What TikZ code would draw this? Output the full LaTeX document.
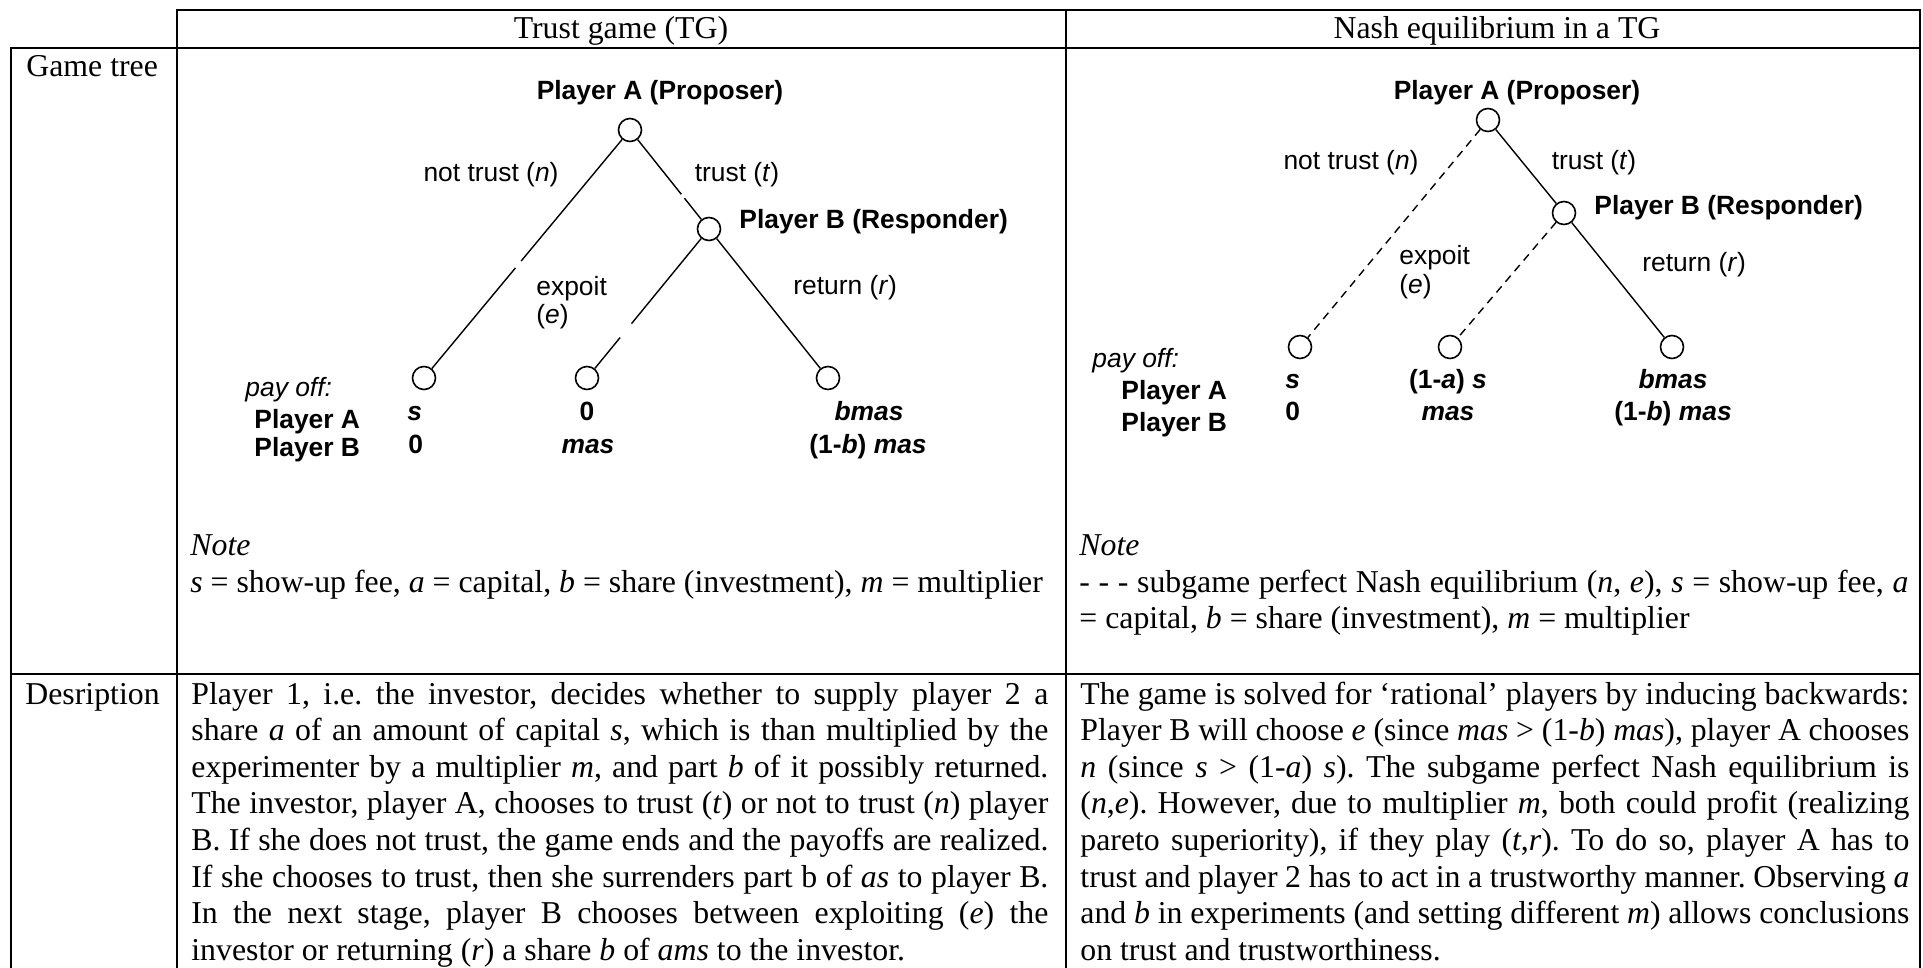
\documentclass[tikz,border=0pt]{standalone}
\usepackage{fontspec}
\setmainfont{Liberation Serif}
\newfontfamily\treefont{Liberation Sans}
\frenchspacing

\begin{document}
\begin{tikzpicture}[
  x=0.5pt, y=-0.5pt,
  font=\fontsize{15.9}{18.3}\selectfont,
  rule/.style={line width=1.4pt, line cap=rect},
  cell/.style={inner sep=0pt, anchor=base west},
  para/.style={cell, align=justify, text width=#1},
  dec/.style={circle, draw, line width=0.8pt, minimum size=11.5pt, inner sep=0pt},
  lab/.style={inner sep=0pt, font=\treefont\fontsize{13.2}{15}\selectfont},
  lab it/.style={inner sep=0pt, font=\treefont\itshape\fontsize{13.2}{15}\selectfont},
  who/.style={inner sep=0pt, font=\treefont\bfseries\fontsize{13.2}{15}\selectfont},
  edge/.style={line width=0.7pt},
  spe/.style={edge, dash pattern=on 4pt off 3pt}
]
\useasboundingbox (0,0) rectangle (1923,968);

\draw[rule] (177,10) -- (1920,10);
\draw[rule] (11,48) -- (1920,48);
\draw[rule] (11,674) -- (1920,674);
\draw[rule] (11,48) -- (11,968);
\foreach \x in {177,1066,1920}
  \draw[rule] (\x,10) -- (\x,968);

\node[cell, anchor=base] (h1) at (621,39) {Trust game (TG)};
\node[cell, anchor=base] (h2) at (1497,39) {Nash equilibrium in a TG};
\node[cell] (g) at (26,77) {Game tree};
\node[cell] (d) at (25,704) {Desription};

\node[who, anchor=base] (tA1) at (660,100) {Player A (Proposer)};
\node[dec] (A1) at (630,130) {};
\node[dec] (B1) at (709,229) {};
\node[who, anchor=base west] (tB1) at (739,229) {Player B (Responder)};
\node[dec] (n1) at (424,378) {};
\node[dec] (e1) at (587,378) {};
\node[dec] (r1) at (828,378) {};
\draw[edge, dash pattern=on 79pt off 4.5pt on 200pt] (A1) -- (n1);
\draw[edge, dash pattern=on 35pt off 2.5pt on 100pt] (A1) -- (B1);
\draw[edge, dash pattern=on 55pt off 9pt on 200pt] (B1) -- (e1);
\draw[edge] (B1) -- (r1);
\node[lab, anchor=base] (ln1) at (491,182) {not trust (\textit{n})};
\node[lab, anchor=base] (lt1) at (737,182) {trust (\textit{t})};
\node[lab, anchor=base west] (le1) at (536,296) {expoit};
\node[lab, anchor=base west] (lx1) at (536,324) {(\textit{e})};
\node[lab, anchor=base west] (lr1) at (793,295) {return (\textit{r})};
\node[lab it, anchor=base west] (po1) at (245,396) {pay off:};
\node[who, anchor=base west] (pA1) at (254,428) {Player A};
\node[who, anchor=base west] (pB1) at (254,456) {Player B};
\node[who, anchor=base west] (an1) at (407,421) {\textit{s}};
\node[who, anchor=base west] (bn1) at (408,453) {0};
\node[who, anchor=base] (ae1) at (587,421) {0};
\node[who, anchor=base] (be1) at (588,453) {\textit{mas}};
\node[who, anchor=base] (ar1) at (869,421) {\textit{bmas}};
\node[who, anchor=base] (br1) at (868,453) {(1-\textit{b}) \textit{mas}};

\node[who, anchor=base] (tA2) at (1517,100) {Player A (Proposer)};
\node[dec] (A2) at (1488,120) {};
\node[dec] (B2) at (1564,213) {};
\node[who, anchor=base west] (tB2) at (1594,215) {Player B (Responder)};
\node[dec] (n2) at (1300,347) {};
\node[dec] (e2) at (1450,347) {};
\node[dec] (r2) at (1672,347) {};
\draw[spe] (A2) -- (n2);
\draw[edge] (A2) -- (B2);
\draw[spe] (B2) -- (e2);
\draw[edge] (B2) -- (r2);
\node[lab, anchor=base] (ln2) at (1351,170) {not trust (\textit{n})};
\node[lab, anchor=base] (lt2) at (1594,170) {trust (\textit{t})};
\node[lab, anchor=base west] (le2) at (1399,265) {expoit};
\node[lab, anchor=base west] (lx2) at (1399,294) {(\textit{e})};
\node[lab, anchor=base west] (lr2) at (1642,272) {return (\textit{r})};
\node[lab it, anchor=base west] (po2) at (1092,367) {pay off:};
\node[who, anchor=base west] (pA2) at (1121,400) {Player A};
\node[who, anchor=base west] (pB2) at (1121,431) {Player B};
\node[who, anchor=base west] (an2) at (1285,388) {\textit{s}};
\node[who, anchor=base west] (bn2) at (1285,421) {0};
\node[who, anchor=base] (ae2) at (1448,388) {(1-\textit{a}) \textit{s}};
\node[who, anchor=base] (be2) at (1448,421) {\textit{mas}};
\node[who, anchor=base] (ar2) at (1673,388) {\textit{bmas}};
\node[who, anchor=base] (br2) at (1673,421) {(1-\textit{b}) \textit{mas}};

\node[cell] (nt1) at (190,555) {\textit{Note}};
\node[cell] (nv1) at (190,592) {\textit{s} = show-up fee, \textit{a} = capital, \textit{b} = share (investment), \textit{m} = multiplier};
\node[cell] (nt2) at (1079,555) {\textit{Note}};
\node[para=414.5pt] (nv2) at (1079,592) {\tolerance=10000
- - - subgame perfect Nash equilibrium (\textit{n}, \textit{e}), \textit{s} = show-up fee, \textit{a}\linebreak
= capital, \textit{b} = share (investment), \textit{m} = multiplier};

\node[para=428.5pt] (d1) at (191,704) {\tolerance=10000
Player 1, i.e. the investor, decides whether to supply player 2 a\linebreak
share \textit{a} of an amount of capital \textit{s}, which is than multiplied by the\linebreak
experimenter by a multiplier \textit{m}, and part \textit{b} of it possibly returned.\linebreak
The investor, player A, chooses to trust (\textit{t}) or not to trust (\textit{n}) player\linebreak
B. If she does not trust, the game ends and the payoffs are realized.\linebreak
If she chooses to trust, then she surrenders part b of \textit{as} to player B.\linebreak
In the next stage, player B chooses between exploiting (\textit{e}) the\linebreak
investor or returning (\textit{r}) a share \textit{b} of \textit{ams} to the investor.};
\node[para=414.5pt] (d2) at (1080,704) {\tolerance=10000
The game is solved for ‘rational’ players by inducing backwards:\linebreak
Player B will choose \textit{e} (since \textit{mas} > (1-\textit{b}) \textit{mas}), player A chooses\linebreak
\textit{n} (since \textit{s} > (1-\textit{a}) \textit{s}). The subgame perfect Nash equilibrium is\linebreak
(\textit{n},\textit{e}). However, due to multiplier \textit{m}, both could profit (realizing\linebreak
pareto superiority), if they play (\textit{t},\textit{r}). To do so, player A has to\linebreak
trust and player 2 has to act in a trustworthy manner. Observing \textit{a}\linebreak
and \textit{b} in experiments (and setting different \textit{m}) allows conclusions\linebreak
on trust and trustworthiness.};
\end{tikzpicture}
\end{document}
